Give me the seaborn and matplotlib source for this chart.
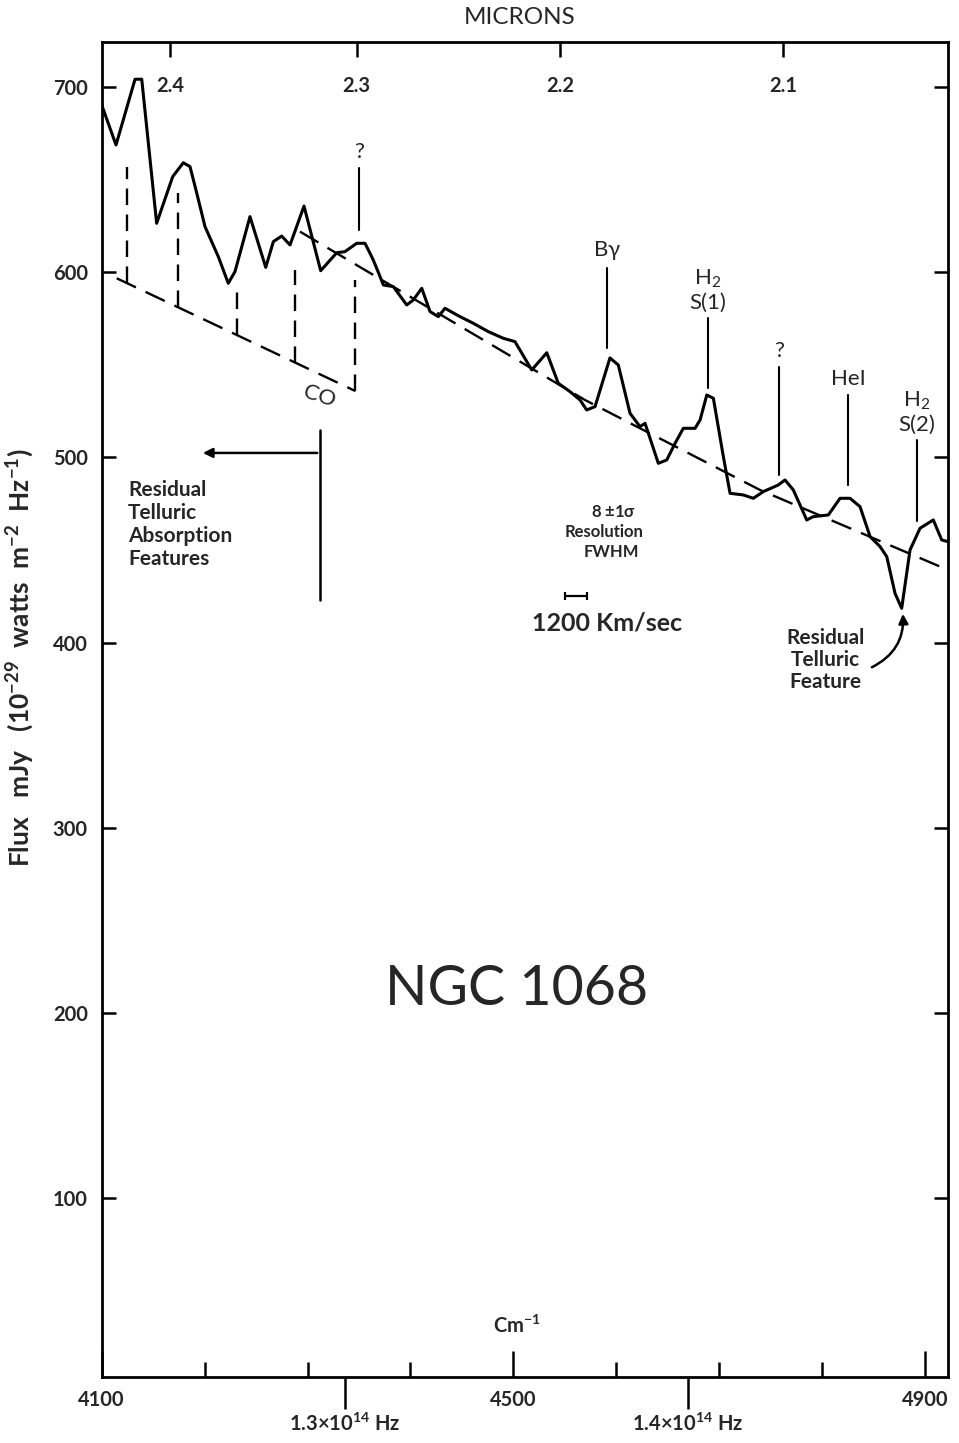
import numpy as np
import pandas as pd
import matplotlib
matplotlib.use("Agg")
import matplotlib.pyplot as plt
import seaborn as sns

# ---------------- data ----------------
wavenumber = [4100.0, 4113.9, 4132.4, 4138.9, 4153.4, 4169.0, 4179.3, 4185.8, 4191.6, 4200.4,
              4213.3, 4223.0, 4229.5, 4244.1, 4259.4, 4266.8, 4274.9, 4283.0, 4296.6, 4312.8,
              4328.4, 4336.4, 4347.8, 4355.9, 4363.9, 4370.5, 4373.7, 4383.4, 4396.4, 4402.8,
              4411.0, 4419.1, 4427.1, 4433.6, 4448.2, 4461.1, 4475.7, 4490.3, 4501.6, 4517.9,
              4532.5, 4543.7, 4555.1, 4564.8, 4571.3, 4579.4, 4593.9, 4602.0, 4613.4, 4623.1,
              4628.0, 4640.9, 4649.1, 4657.2, 4665.2, 4676.6, 4681.5, 4688.0, 4694.4, 4704.1,
              4710.6, 4723.5, 4733.2, 4742.9, 4757.5, 4764.0, 4772.1, 4785.1, 4791.5, 4806.1,
              4817.5, 4827.2, 4836.9, 4846.7, 4856.4, 4862.9, 4870.9, 4877.4, 4885.5, 4895.2,
              4908.1, 4916.3, 4922.4]
flux = [690.3, 668.7, 704.2, 704.2, 626.4, 651.6, 659.1, 657.0, 644.4, 624.6,
        608.4, 594.0, 600.3, 630.0, 602.6, 616.5, 619.5, 614.7, 635.7, 600.8,
        610.5, 611.1, 615.6, 615.6, 606.6, 597.6, 593.1, 592.2, 582.3, 585.0,
        591.3, 578.7, 576.0, 580.5, 576.0, 572.4, 567.9, 564.3, 562.5, 547.2,
        556.5, 540.0, 535.5, 531.0, 525.6, 527.4, 553.7, 549.9, 523.8, 516.6,
        518.4, 496.8, 498.6, 507.6, 515.7, 515.7, 520.2, 533.7, 531.9, 500.4,
        480.6, 479.7, 477.9, 481.5, 485.1, 487.8, 482.4, 466.2, 468.0, 468.9,
        477.9, 477.9, 473.4, 457.2, 451.8, 446.4, 426.6, 418.5, 450.0, 461.7,
        466.2, 455.4, 454.5]

continuum_x = [4292.7, 4569.6, 4739.7, 4922.4]
continuum_y = [621.9, 531.0, 482.4, 439.2]

# CO band heads: wavenumber, top and bottom of dashed marker
co_x = [4124.3, 4174.0, 4231.7, 4288.3, 4346.6]
co_top = [657.0, 642.8, 590.4, 601.2, 595.8]
co_base_x = [4114.6, 4346.6]
co_base_y = [596.7, 535.8]

# line identifications
line_names = ["?", "B$\\gamma$", "H$_2$\nS(1)", "?", "HeI", "H$_2$\nS(2)"]
line_x = [4350.0, 4591.1, 4689.2, 4758.3, 4825.3, 4892.3]
line_top = [656.3, 602.3, 575.3, 548.8, 533.7, 509.4]
line_bot = [622.8, 559.1, 537.5, 490.5, 485.1, 465.7]

ytick_vals = [100, 200, 300, 400, 500, 600, 700]
xmajor_vals = [4100, 4500, 4900]
xminor_vals = [4200, 4300, 4400, 4600, 4700, 4800]
micron_vals = [2.4, 2.3, 2.2, 2.1]
micron_labels = ["2.4", "2.3", "2.2", "2.1"]
hz_vals = [1.3, 1.4]
hz_labels = ["1.3$\\times$10$^{14}$ Hz", "1.4$\\times$10$^{14}$ Hz"]

# ---------------- style ----------------
sns.set_theme(style="white")
plt.rcParams["font.family"] = ["Lato", "DejaVu Sans"]
plt.rcParams["mathtext.default"] = "regular"
plt.rcParams["mathtext.fontset"] = "custom"
plt.rcParams["mathtext.rm"] = "Lato"
plt.rcParams["mathtext.it"] = "Lato:italic"
plt.rcParams["mathtext.bf"] = "Lato:bold"

W, H = 959, 1443
fig = plt.figure(figsize=(W / 100, H / 100), dpi=100)
ax = fig.add_axes([101.7 / W, 1 - 1377 / H, (948 - 101.7) / W, (1377 - 42) / H])

spec = pd.DataFrame({"wn": wavenumber, "flux": flux})
sns.lineplot(data=spec, x="wn", y="flux", sort=False, estimator=None, color="black",
             linewidth=2.2, ax=ax)

cont = pd.DataFrame({"wn": continuum_x, "flux": continuum_y})
sns.lineplot(data=cont, x="wn", y="flux", sort=False, estimator=None, color="black",
             linewidth=1.7, dashes=False, ax=ax)
ax.lines[-1].set_dashes((9, 4.5))

# CO structure
ax.plot(co_base_x, co_base_y, color="black", lw=1.7, dashes=(9, 4.5))
slope = (co_base_y[1] - co_base_y[0]) / (co_base_x[1] - co_base_x[0])
for x, top in zip(co_x, co_top):
    base = co_base_y[0] + slope * (x - co_base_x[0])
    ax.plot([x, x], [base, top], color="black", lw=1.7, dashes=(7, 4))
ax.text(4312, 533, "CO", fontsize=16, rotation=-18, ha="center", va="center")

# line identification markers
for name, x, t, b in zip(line_names, line_x, line_top, line_bot):
    ax.plot([x, x], [b, t], color="black", lw=1.5)
    ax.text(x, t + 3, name, fontsize=16, ha="center", va="bottom", linespacing=1.15)

# residual telluric absorption annotation (left)
ax.plot([4312.2, 4312.2], [423.0, 514.8], color="black", lw=1.8)
ax.annotate("", xy=(4195.6, 502.4), xytext=(4312.2, 502.4),
            arrowprops=dict(arrowstyle="-|>", color="black", lw=1.8, mutation_scale=14))
ax.text(4125.6, 488, "Residual\nTelluric\nAbsorption\nFeatures", fontsize=15,
        fontweight="bold", ha="left", va="top", linespacing=1.2)

# residual telluric feature (right)
ax.text(4803.6, 390.6, "Residual\nTelluric\nFeature", fontsize=15, fontweight="bold",
        ha="center", va="center", linespacing=1.15)
ax.annotate("", xy=(4878.4, 417), xytext=(4846, 386),
            arrowprops=dict(arrowstyle="-|>", color="black", lw=1.8, mutation_scale=14,
                            connectionstyle="arc3,rad=0.35"))

# resolution annotation
ax.text(4597, 470.5, "8 $\\pm$1$\\sigma$", fontsize=12, fontweight="bold", ha="center", va="center")
ax.text(4588, 459.7, "Resolution", fontsize=12, fontweight="bold", ha="center", va="center")
ax.text(4595, 449, "FWHM", fontsize=12, fontweight="bold", ha="center", va="center")
ax.errorbar([4561], [425.2], xerr=[[10.7], [10.7]], fmt="none", ecolor="black",
            elinewidth=1.6, capsize=3, capthick=1.6)
ax.text(4591, 410.6, "1200 Km/sec", fontsize=18, fontweight="bold", ha="center", va="center")

ax.text(4503, 212.4, "NGC 1068", fontsize=40, ha="center", va="center")
ax.text(4503.5, 25, "Cm$^{-1}$", fontsize=14.5, fontweight="bold", ha="center", va="bottom")

# ---------------- axes ----------------
ax.set_xlim(4100, 4922.4)
ax.set_ylim(3.4, 724.3)
ax.set_xlabel("")
ax.set_ylabel("Flux   mJy   (10$^{-29}$  watts  m$^{-2}$  Hz$^{-1}$)", fontsize=19,
              fontweight="bold")
ax.yaxis.set_label_coords(-0.078, 0.5386)

for s in ax.spines.values():
    s.set_visible(True)
    s.set_color("black")
    s.set_linewidth(2.0)

ax.set_yticks(ytick_vals)
ax.set_yticklabels([str(v) for v in ytick_vals], fontsize=14.5, fontweight="bold")
ax.tick_params(axis="y", which="major", direction="in", left=True, right=True,
               length=10, width=1.8, color="black", pad=10)

ax.set_xticks(xmajor_vals)
ax.set_xticklabels([str(v) for v in xmajor_vals], fontsize=14.5, fontweight="bold")
ax.set_xticks(xminor_vals, minor=True)
ax.tick_params(axis="x", which="major", direction="in", bottom=True, top=False,
               length=19, width=1.8, color="black", pad=9)
ax.tick_params(axis="x", which="minor", direction="in", bottom=True, top=False,
               length=11, width=1.8, color="black")


def cm_to_um(x):
    x = np.asarray(x, dtype=float)
    with np.errstate(divide="ignore", invalid="ignore"):
        return 1e4 / x


top = ax.secondary_xaxis("top", functions=(cm_to_um, cm_to_um))
top.set_xticks(micron_vals)
top.set_xticklabels(micron_labels, fontsize=14.5, fontweight="bold")
top.tick_params(axis="x", direction="in", length=11, width=1.8, color="black", pad=-39)
top.spines["top"].set_visible(False)

C = 2.998e10 / 1e14
hz = ax.secondary_xaxis("bottom", functions=(lambda x: np.asarray(x, float) * C,
                                             lambda x: np.asarray(x, float) / C))
hz.set_xticks(hz_vals)
hz.set_xticklabels(hz_labels, fontsize=14.5, fontweight="bold")
hz.tick_params(axis="x", direction="out", length=23, width=1.8, color="black", pad=3)
hz.spines["bottom"].set_visible(False)

fig.text(520 / W, 1 - 18 / H, "MICRONS", fontsize=17.5, ha="center", va="center")

fig.savefig("out.png", dpi=100, facecolor="white")
